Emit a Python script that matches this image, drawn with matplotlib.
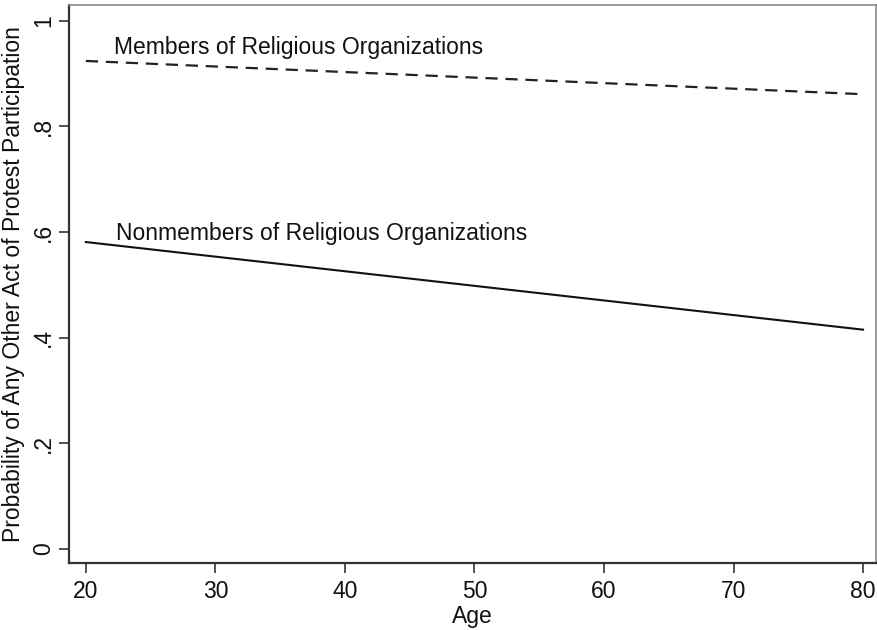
import matplotlib
matplotlib.use("Agg")
import matplotlib.pyplot as plt

plt.rcParams['font.family'] = ['Liberation Sans', 'DejaVu Sans']

age = [20, 80]
members = [0.924, 0.861]
nonmembers = [0.581, 0.415]
x_ticks = [20, 30, 40, 50, 60, 70, 80]
y_ticks = [0, 0.2, 0.4, 0.6, 0.8, 1.0]
y_tick_labels = ["0", ".2", ".4", ".6", ".8", "1"]

fs = 16.5

fig = plt.figure(figsize=(8.77, 6.30), dpi=100)
ax = fig.add_axes([69 / 877, 1 - 563 / 630, (876 - 69) / 877, (563 - 5) / 630])

ax.plot(age, members, color="#222222", lw=1.6, ls=(0, (5.5, 3.5)))
ax.plot(age, nonmembers, color="#111111", lw=1.5)

ax.text(22.2, 0.950, "Members of Religious Organizations", fontsize=fs,
        va="center", ha="left", color="#111111")
ax.text(22.3, 0.598, "Nonmembers of Religious Organizations", fontsize=fs,
        va="center", ha="left", color="#111111")

ax.set_xlim(18.7, 81)
ax.set_ylim(-0.027, 1.03)
ax.set_xticks(x_ticks)
ax.set_yticks(y_ticks)
ax.set_yticklabels(y_tick_labels, rotation=90, va="center")
ax.tick_params(axis="both", direction="out", length=7, width=1.2,
               color="#333333", labelsize=fs, labelcolor="#111111", pad=5)
ax.tick_params(axis="y", pad=3)

for side in ("left", "bottom"):
    ax.spines[side].set_color("#333333")
    ax.spines[side].set_linewidth(1.6)
for side in ("top", "right"):
    ax.spines[side].set_color("#888888")
    ax.spines[side].set_linewidth(1.2)

ax.set_xlabel("Age", fontsize=fs, color="#111111", labelpad=2)
ax.set_ylabel("Probability of Any Other Act of Protest Participation",
              fontsize=fs, color="#111111")
ax.yaxis.set_label_coords(-0.055, 0.5)

fig.savefig("out.png", dpi=100, facecolor="white")
